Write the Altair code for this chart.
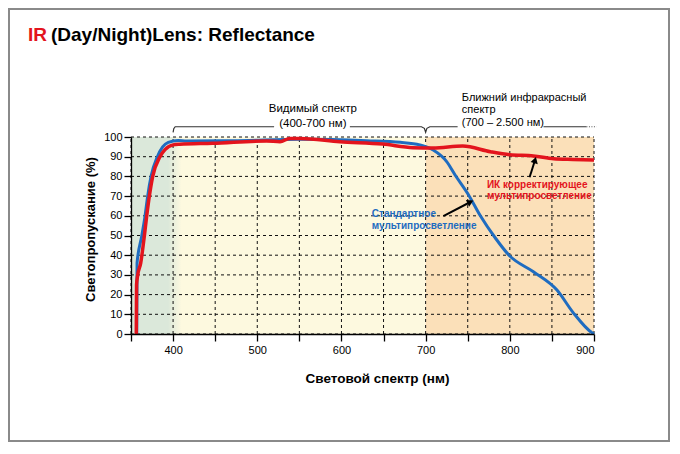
import altair as alt
import pandas as pd

# ---- data ----
blue_nm = [356.8, 357.2, 362.7, 366.6, 369.8, 373.8, 381.3, 387.6, 394.3, 406, 416, 471, 551, 630, 670, 693, 709, 725, 735, 751, 765, 783, 799, 828, 856, 875, 898, 900]
blue_val = [0, 36, 49.6, 59.7, 70, 80, 90, 95, 97.3, 98.2, 98, 98.1, 98.8, 98.1, 97.3, 96, 93.4, 87.5, 80.7, 70.6, 60, 48.6, 40, 31.6, 22.3, 11, 0.5, 0]
red_nm = [356.3, 356.6, 358, 361.5, 365.8, 368.6, 371.8, 375.8, 384.4, 390.4, 400, 408, 447, 511, 527, 539, 551, 598, 649, 685, 709, 744, 777, 800, 828, 852, 875, 900]
red_val = [0, 25, 30, 36, 49.6, 59.7, 70, 80, 90, 93.6, 96, 96.3, 96.8, 98, 97.6, 99.3, 99.3, 97.6, 96.4, 94.6, 94.4, 95.4, 92.5, 91, 90.4, 89, 88.6, 88.3]

band_start = [350, 400, 700]
band_end = [400, 700, 900]
band_color = ["#dbe8da", "#fdf9df", "#fbe0b9"]

x_ticks = list(range(350, 901, 50))
y_ticks = list(range(0, 101, 10))

title_red = "IR"
title_black = "(Day/Night)Lens: Reflectance"
x_title = "Световой спектр (нм)"
y_title = "Светопропускание (%)"

FONT = "Liberation Sans Narrow, Liberation Sans, Arial"

# annotation texts
vis_lines = ["Видимый спектр", "(400-700 нм)"]
vis_x = 566
vis_y = [114.2, 106.6]
nir_lines = ["Ближний инфракрасный", "спектр", "(700 – 2.500 нм)"]
nir_x = 743
nir_y = [119.6, 113.7, 107.0]
red_lab = ["ИК корректирующее", "мультипросветление"]
red_lab_x = 772.8
red_lab_y = [75.6, 70.0]
blue_lab = ["Стандартное", "мультипросветление"]
blue_lab_x = 636
blue_lab_y = [60.8, 54.8]

# brace line (nm, %)
brace_nm = [400, 400.8, 402.5, 520, None, 610, 695, 698.5, 700, 701.5, 705, 738, None, 840, 891]
brace_pc = [102.3, 104.2, 105.2, 105.2, None, 105.2, 105.2, 104.4, 102.4, 104.4, 105.2, 105.2, None, 105.2, 105.2]
brace_seg = [0, 0, 0, 0, None, 1, 1, 1, 1, 1, 1, 1, None, 2, 2]
dot_nm = [891, 903]
dot_pc = [105.2, 105.2]

# arrows (start -> tip)
red_arrow_nm = [823.5, 830]
red_arrow_pc = [79.6, 88.3]
blue_arrow_nm = [721, 753.2]
blue_arrow_pc = [59.8, 67.0]

# ---- build tables ----
X = alt.Scale(domain=[350, 900], nice=False, zero=False)
Y = alt.Scale(domain=[0, 100], nice=False, zero=False)

blue_df = pd.DataFrame({"nm": blue_nm, "v": blue_val, "o": range(len(blue_nm))})
red_df = pd.DataFrame({"nm": red_nm, "v": red_val, "o": range(len(red_nm))})
bands_df = pd.DataFrame({"a": band_start, "b": band_end, "c": band_color, "y0": 0, "y1": 100})
gx_df = pd.DataFrame({"x": x_ticks, "y0": 0, "y1": 100})
gy_df = pd.DataFrame({"y": y_ticks, "x0": 350, "x1": 900})
brace_rows = [(n, p, s, i) for i, (n, p, s) in enumerate(zip(brace_nm, brace_pc, brace_seg)) if n is not None]
brace_df = pd.DataFrame(brace_rows, columns=["nm", "p", "seg", "o"])
dot_df = pd.DataFrame({"nm": dot_nm, "p": dot_pc})

x_axis = alt.Axis(values=x_ticks, labelExpr="datum.value % 100 == 0 ? datum.label : ''",
                  grid=False, tickSize=7, tickColor="black", domainColor="black", domainWidth=1.3,
                  tickWidth=1.3, labelFont=FONT, labelFontSize=11, labelColor="black", labelPadding=3,
                  labelOverlap=False,
                  title=x_title, titleFont=FONT, titleFontSize=13.5, titleFontWeight="bold",
                  titleColor="black", titleX=246, titleY=48, titleBaseline="alphabetic",
                  titleAlign="center", titleAnchor="start", zindex=1)
y_axis = alt.Axis(values=y_ticks, grid=False, tickSize=7, tickColor="black",
                  domainColor="black", domainWidth=1.3, tickWidth=1.3, labelFont=FONT,
                  labelFontSize=11, labelColor="black", labelPadding=2, labelOverlap=False,
                  title=y_title, titleFont=FONT, titleFontSize=13,
                  titleFontWeight="bold", titleColor="black", titleAngle=270, titleX=-41, titleY=92,
                  titleAlign="center", titleBaseline="middle", titleAnchor="start", zindex=1)

XA = lambda f: alt.X(f, scale=X, axis=x_axis)
YA = lambda f: alt.Y(f, scale=Y, axis=y_axis)

bands = alt.Chart(bands_df).mark_rect().encode(
    x=XA("a:Q"), x2="b:Q", y=YA("y0:Q"), y2="y1:Q",
    color=alt.Color("c:N", scale=None),
)
fade = alt.Chart(pd.DataFrame({"a": [394], "b": [410], "y0": [0], "y1": [100]})).mark_rect(
    color=alt.Gradient(gradient="linear", x1=0, x2=1, y1=0, y2=0,
                       stops=[alt.GradientStop(color=band_color[0], offset=0),
                              alt.GradientStop(color=band_color[1], offset=1)])
).encode(x=XA("a:Q"), x2="b:Q", y=YA("y0:Q"), y2="y1:Q")

gx = alt.Chart(gx_df).mark_rule(color="#111", strokeWidth=1, strokeDash=[3, 3]).encode(
    x=XA("x:Q"), y=YA("y0:Q"), y2="y1:Q")
gy = alt.Chart(gy_df).mark_rule(color="#111", strokeWidth=1, strokeDash=[3, 3]).encode(
    y=YA("y:Q"), x=XA("x0:Q"), x2="x1:Q")

blue = alt.Chart(blue_df).mark_line(color="#1f6cc0", strokeWidth=3, interpolate="monotone").encode(
    x=XA("nm:Q"), y=YA("v:Q"), order="o:Q")
red = alt.Chart(red_df).mark_line(color="#e3141d", strokeWidth=3.5, interpolate="monotone").encode(
    x=XA("nm:Q"), y=YA("v:Q"), order="o:Q")

brace = alt.Chart(brace_df).mark_line(color="#333", strokeWidth=1.2, clip=False).encode(
    x=XA("nm:Q"), y=YA("p:Q"), detail="seg:N", order="o:Q")
dots = alt.Chart(dot_df).mark_line(color="#555", strokeWidth=1.2, strokeDash=[1, 1.5], clip=False).encode(
    x=XA("nm:Q"), y=YA("p:Q"))


def text_layer(lines, x, ys, color, align, weight, size):
    df = pd.DataFrame({"t": lines, "x": x, "y": ys})
    return alt.Chart(df).mark_text(color=color, align=align, baseline="middle", font=FONT,
                                   fontWeight=weight, fontSize=size, clip=False).encode(
        x=XA("x:Q"), y=YA("y:Q"), text="t:N")


vis_t = text_layer(vis_lines, vis_x, vis_y, "black", "center", "normal", 11.5)
nir_t = text_layer(nir_lines, nir_x, nir_y, "black", "left", "normal", 11)
red_t = text_layer(red_lab, red_lab_x, red_lab_y, "#e3141d", "left", "bold", 10)
blue_t = text_layer(blue_lab, blue_lab_x, blue_lab_y, "#1f6cc0", "left", "bold", 10)


def arrow(nms, pcs, angle):
    df = pd.DataFrame({"nm": nms, "p": pcs})
    line = alt.Chart(df).mark_line(color="black", strokeWidth=2).encode(
        x=XA("nm:Q"), y=YA("p:Q"))
    head = alt.Chart(df.iloc[[1]]).mark_point(shape="triangle-up", filled=True, color="black",
                                              size=55, opacity=1, angle=angle).encode(
        x=XA("nm:Q"), y=YA("p:Q"))
    return line + head


red_arrow = arrow(red_arrow_nm, red_arrow_pc, 16)
blue_arrow = arrow(blue_arrow_nm, blue_arrow_pc, 64)

title1 = alt.Chart(pd.DataFrame({"t": [title_red]})).mark_text(
    color="#e3141d", align="left", baseline="alphabetic", font=FONT, fontWeight="bold", fontSize=19
).encode(x=alt.value(-103), y=alt.value(-96), text="t:N")
title2 = alt.Chart(pd.DataFrame({"t": [title_black]})).mark_text(
    color="black", align="left", baseline="alphabetic", font=FONT, fontWeight="bold", fontSize=19
).encode(x=alt.value(-80), y=alt.value(-96), text="t:N")

frame = alt.Chart(pd.DataFrame({"k": [0]})).mark_rect(
    fill=None, stroke="#8a8a8a", strokeWidth=2
).encode(x=alt.value(-122), x2=alt.value(463 + 75), y=alt.value(-128), y2=alt.value(197 + 107))

chart = alt.layer(
    bands, fade, gx, gy, blue, red, brace, dots, vis_t, nir_t, red_arrow, blue_arrow,
    red_t, blue_t, title1, title2, frame
).properties(
    width=463, height=197, autosize="none",
    padding={"left": 123, "top": 129, "right": 76, "bottom": 108},
    background="white",
).configure_view(stroke=None)

chart.save("out.html", embed_options={"renderer": "svg", "actions": False})
